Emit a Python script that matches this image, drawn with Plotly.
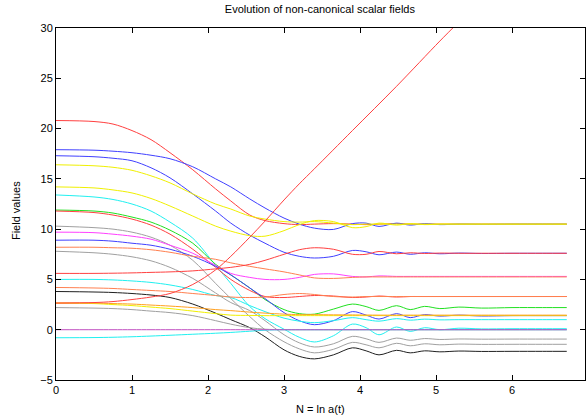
import plotly.graph_objects as go

# common N grid for the fields (N = ln a)
n_grid = [0, 0.5, 0.75, 1.0, 1.25, 1.5, 1.8, 2.1, 2.3, 2.55, 2.75, 3.0, 3.2, 3.4, 3.65, 3.9,
          4.08, 4.25, 4.48, 4.66, 4.85, 5.05, 5.3, 5.6, 6.0, 6.4, 6.72]

red_a = [20.8, 20.7, 20.45, 19.8, 18.9, 17.6, 15.9, 14.0, 12.8, 11.4, 10.85, 10.55, 10.45, 10.5, 10.55,
         10.5, 10.45, 10.5, 10.55, 10.5, 10.5, 10.5, 10.5, 10.5, 10.5, 10.5, 10.5]
blue_a = [17.9, 17.85, 17.75, 17.6, 17.35, 17.0, 16.2, 15.0, 14.2, 13.0, 12.1, 11.1, 10.5, 10.1, 9.97,
          10.55, 10.6, 10.27, 10.6, 10.4, 10.55, 10.45, 10.5, 10.48, 10.5, 10.5, 10.5]
blue_b = [17.3, 17.2, 17.05, 16.8, 16.1, 15.1, 13.5, 11.8, 10.6, 9.4, 8.6, 7.7, 7.3, 7.13, 7.3,
          7.88, 7.75, 7.45, 7.72, 7.5, 7.65, 7.55, 7.62, 7.58, 7.6, 7.6, 7.6]
yellow_a = [16.4, 16.3, 16.15, 15.85, 15.3, 14.6, 13.5, 12.5, 12.0, 11.3, 11.0, 10.75, 10.7, 10.75, 10.6,
            10.45, 10.5, 10.5, 10.5, 10.5, 10.5, 10.5, 10.5, 10.5, 10.5, 10.5, 10.5]
yellow_b = [14.2, 14.1, 13.9, 13.6, 13.05, 12.3, 11.3, 10.3, 9.8, 9.35, 9.3, 9.85, 10.45, 10.85, 10.75,
            10.15, 10.25, 10.6, 10.4, 10.55, 10.45, 10.5, 10.5, 10.5, 10.5, 10.5, 10.5]
cyan_a = [13.4, 13.2, 12.95, 12.5, 11.8, 10.7, 9.1, 6.4, 4.6, 2.3, 1.1, 0.05, -0.75, -1.22, -0.6,
          0.56, 0.2, -0.5, 0.27, -0.17, 0.2, 0.0, 0.15, 0.08, 0.1, 0.1, 0.1]
green = [11.9, 11.8, 11.6, 11.2, 10.7, 9.9, 8.6, 6.5, 5.45, 4.15, 3.0, 2.0, 1.6, 1.55, 2.05,
         2.55, 2.3, 1.92, 2.39, 2.0, 2.32, 2.1, 2.25, 2.15, 2.2, 2.2, 2.2]
red_b = [11.8, 11.65, 11.4, 11.0, 10.4, 9.5, 8.0, 6.2, 5.0, 3.9, 3.3, 3.2, 3.3, 3.4, 3.35,
         3.2, 3.25, 3.35, 3.25, 3.3, 3.3, 3.3, 3.3, 3.3, 3.3, 3.3, 3.3]
gray_a = [10.3, 10.15, 10.0, 9.7, 9.2, 8.4, 6.9, 4.6, 3.1, 1.3, 0.0, -1.2, -1.9, -2.3, -1.95,
          -1.26, -1.5, -1.8, -1.35, -1.6, -1.4, -1.5, -1.43, -1.46, -1.45, -1.45, -1.45]
magenta_a = [9.7, 9.65, 9.5, 9.3, 9.0, 8.4, 7.6, 6.4, 5.6, 5.2, 5.0, 5.0, 5.2, 5.5, 5.55,
             5.3, 5.25, 5.35, 5.3, 5.3, 5.3, 5.3, 5.3, 5.3, 5.3, 5.3, 5.3]
blue_c = [8.9, 8.9, 8.8, 8.6, 8.4, 8.0, 7.3, 6.3, 5.45, 4.15, 3.1, 1.7, 0.9, 0.5, 0.9,
          1.8, 1.45, 1.06, 1.6, 1.2, 1.5, 1.35, 1.45, 1.36, 1.4, 1.4, 1.4]
orange_a = [8.2, 8.2, 8.15, 8.1, 7.95, 7.7, 7.3, 7.0, 6.65, 6.3, 6.05, 5.75, 5.45, 5.15, 5.1,
            5.2, 5.25, 5.25, 5.25, 5.25, 5.25, 5.25, 5.25, 5.25, 5.25, 5.25, 5.25]
gray_b = [7.8, 7.65, 7.5, 7.25, 6.85, 6.2, 5.1, 3.65, 2.7, 1.9, 0.9, -0.5, -1.3, -1.72, -1.4,
          -0.66, -0.9, -1.26, -0.83, -1.05, -0.88, -0.97, -0.92, -0.94, -0.93, -0.93, -0.93]
red_c = [5.6, 5.6, 5.62, 5.65, 5.7, 5.75, 5.85, 6.05, 6.2, 6.5, 6.9, 7.5, 7.95, 8.15, 8.0,
         7.5, 7.5, 7.78, 7.55, 7.65, 7.58, 7.62, 7.6, 7.6, 7.6, 7.6, 7.6]
cyan_b = [5.0, 5.0, 4.95, 4.85, 4.7, 4.45, 4.0, 3.4, 3.2, 2.4, 1.8, 1.15, 0.85, 0.7, 0.9,
          1.2, 1.0, 0.85, 1.1, 0.95, 1.05, 0.98, 1.0, 1.0, 1.0, 1.0, 1.0]
orange_b = [4.2, 4.15, 4.1, 4.0, 3.9, 3.8, 3.6, 3.4, 3.25, 3.2, 3.25, 3.5, 3.6, 3.5, 3.3,
            3.25, 3.3, 3.3, 3.3, 3.3, 3.3, 3.3, 3.3, 3.3, 3.3, 3.3, 3.3]
black = [3.8, 3.75, 3.7, 3.6, 3.45, 3.2, 2.55, 1.65, 1.0, 0.2, -0.7, -2.0, -2.65, -2.9, -2.5,
         -1.8, -2.1, -2.5, -2.05, -2.3, -2.1, -2.2, -2.12, -2.16, -2.15, -2.15, -2.15]
yellow_c = [2.65, 2.6, 2.5, 2.4, 2.25, 2.1, 1.85, 1.6, 1.45, 1.42, 1.4, 1.4, 1.4, 1.4, 1.4,
            1.4, 1.4, 1.4, 1.4, 1.4, 1.4, 1.4, 1.4, 1.4, 1.4, 1.4, 1.4]
orange_c = [2.65, 2.65, 2.6, 2.55, 2.45, 2.35, 2.2, 2.0, 1.9, 1.75, 1.65, 1.55, 1.5, 1.5, 1.48,
            1.47, 1.46, 1.45, 1.45, 1.45, 1.45, 1.45, 1.45, 1.45, 1.45, 1.45, 1.45]
gray_c = [2.2, 2.15, 2.1, 2.0, 1.85, 1.7, 1.4, 0.9, 0.55, 0.2, 0.05, 0.0, 0.0, 0.0, 0.0,
          0.0, 0.0, 0.0, 0.0, 0.0, 0.0, 0.0, 0.0, 0.0, 0.0, 0.0, 0.0]
magenta_b = [0.0] * len(n_grid)
cyan_c = [-0.8, -0.78, -0.75, -0.7, -0.63, -0.55, -0.45, -0.35, -0.27, -0.15, -0.05, 0.0, 0.0, 0.0, 0.0,
          0.0, 0.0, 0.0, 0.0, 0.0, 0.0, 0.0, 0.0, 0.0, 0.0, 0.0, 0.0]

# the runaway field leaves the frame at the top
n_runaway = [0, 0.5, 0.75, 1.0, 1.25, 1.5, 1.8, 2.1, 2.3, 2.55, 2.75, 3.0, 3.2, 3.4, 3.9, 4.48, 5.05, 5.3]
red_runaway = [2.65, 2.7, 2.8, 3.0, 3.25, 3.6, 4.5, 5.95, 7.3, 9.2, 10.8, 12.9, 14.5, 16.0, 19.8, 24.2,
               28.7, 30.6]

fields = [
    (red_a, '#ff4040'), (blue_a, '#4040ff'), (blue_b, '#4040ff'),
    (yellow_a, '#f0f000'), (yellow_b, '#f0f000'), (cyan_a, '#20f0f0'),
    (green, '#20e020'), (red_b, '#ff4040'), (gray_a, '#a0a0a0'),
    (magenta_a, '#ff40ff'), (blue_c, '#4040ff'), (orange_a, '#ff8050'),
    (gray_b, '#a0a0a0'), (red_c, '#ff4040'), (cyan_b, '#20f0f0'),
    (orange_b, '#ff8050'), (black, '#202020'), (yellow_c, '#f0f000'),
    (orange_c, '#ffa020'), (gray_c, '#a0a0a0'), (cyan_c, '#20f0f0'),
    (magenta_b, '#c050c0'),
]

fig = go.Figure()
for values, colour in fields:
    fig.add_trace(go.Scatter(
        x=n_grid, y=values, mode='lines',
        line=dict(color=colour, width=1, shape='spline', smoothing=0.9),
        hoverinfo='skip'))
fig.add_trace(go.Scatter(
    x=n_runaway, y=red_runaway, mode='lines',
    line=dict(color='#ff4040', width=1, shape='spline', smoothing=0.9),
    hoverinfo='skip'))

axis_style = dict(
    showgrid=False, zeroline=False, showline=True, linecolor='black', linewidth=1,
    mirror='allticks', ticks='inside', ticklen=5, tickcolor='black',
    tickfont=dict(size=11, color='black'), automargin=False,
)

fig.update_layout(
    width=587, height=417,
    margin=dict(l=56, r=2, t=28, b=37),
    paper_bgcolor='white', plot_bgcolor='white',
    font=dict(family='Liberation Sans, Arial, sans-serif', size=11, color='black'),
    showlegend=False,
    title=dict(text='Evolution of non-canonical scalar fields', x=0.545, xanchor='center',
               y=0.977, yanchor='middle', font=dict(size=11)),
    xaxis=dict(range=[0, 6.96], tickvals=[0, 1, 2, 3, 4, 5, 6], **axis_style),
    yaxis=dict(range=[-5, 30], tickvals=[-5, 0, 5, 10, 15, 20, 25, 30], **axis_style),
    annotations=[
        dict(text='N = ln a(t)', xref='paper', yref='paper', x=0.5, y=0,
             yshift=-29, yanchor='middle', showarrow=False, font=dict(size=11)),
        dict(text='Field values', xref='paper', yref='paper', x=0, y=0.48,
             xshift=-40, xanchor='center', textangle=-90, showarrow=False,
             font=dict(size=11)),
    ],
)

# the page's default body margin would push the fixed-size figure off the window
fig.write_html('out.html', config={'displayModeBar': False},
               post_script="document.body.style.margin='0px';")
